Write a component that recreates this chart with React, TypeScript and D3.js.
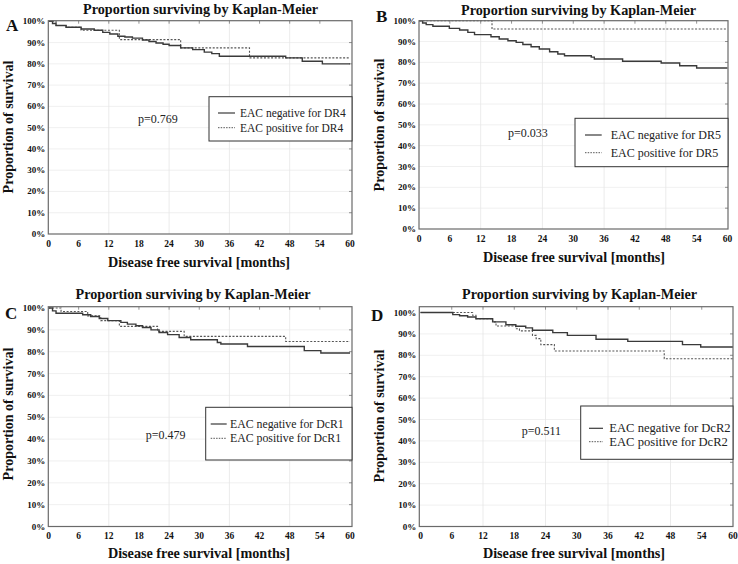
import React from "react";
import * as d3 from "d3";

// ---------- data ----------
const xTicks = [0, 6, 12, 18, 24, 30, 36, 42, 48, 54, 60];
const yTicks = [0, 0.1, 0.2, 0.3, 0.4, 0.5, 0.6, 0.7, 0.8, 0.9, 1.0];
const gridMonths = [12, 24, 36, 48];
const panelLetters = ["A", "B", "C", "D"];
const pValues = ["p=0.769", "p=0.033", "p=0.479", "p=0.511"];
const markers = ["DR4", "DR5", "DcR1", "DcR2"];

const aNegMonths = [0, 0.8, 1.5, 3.5, 6.5, 9.1, 10.8, 12.2, 13.8, 15.2, 16.7, 18.7, 20.0, 21.4, 22.8, 24.0, 26.3, 28.7, 31.0, 32.5, 34.0, 47.2, 50.5, 54.5];
const aNegSurv = [1.0, 0.99, 0.98, 0.972, 0.964, 0.958, 0.948, 0.94, 0.93, 0.926, 0.921, 0.912, 0.905, 0.898, 0.892, 0.886, 0.875, 0.867, 0.855, 0.848, 0.836, 0.828, 0.812, 0.8];
const aPosMonths = [0, 1.5, 3.5, 6.5, 14.1, 26.3, 40.0];
const aPosSurv = [1.0, 0.98, 0.972, 0.958, 0.914, 0.875, 0.828];

const bNegMonths = [0, 0.7, 1.4, 2.7, 5.9, 7.9, 9.5, 10.8, 14.0, 15.6, 17.3, 18.9, 20.2, 21.8, 23.4, 25.4, 27.0, 28.3, 33.5, 34.1, 39.6, 47.1, 50.7, 54.0];
const bNegSurv = [1.0, 0.989, 0.981, 0.973, 0.963, 0.955, 0.944, 0.933, 0.923, 0.912, 0.904, 0.896, 0.886, 0.875, 0.864, 0.851, 0.84, 0.832, 0.825, 0.816, 0.805, 0.797, 0.784, 0.773];
const bPosMonths = [0, 14.2];
const bPosSurv = [1.0, 0.96];

const cNegMonths = [0, 0.8, 1.5, 6.8, 8.4, 10.1, 11.8, 14.4, 15.7, 17.4, 18.7, 20.4, 22.0, 23.7, 26.0, 28.3, 33.6, 34.3, 39.6, 50.9, 54.2];
const cNegSurv = [1.0, 0.987, 0.976, 0.969, 0.961, 0.952, 0.942, 0.934, 0.926, 0.919, 0.911, 0.9, 0.888, 0.878, 0.865, 0.855, 0.842, 0.835, 0.824, 0.805, 0.794];
const cPosMonths = [0, 2.5, 7.8, 10.4, 14.1, 21.7, 27.0, 47.2];
const cPosSurv = [1.0, 0.984, 0.964, 0.942, 0.916, 0.893, 0.87, 0.847];

const dNegMonths = [0, 6.2, 7.5, 9.05, 10.65, 13.85, 16.4, 18.3, 20.2, 21.5, 25.4, 28.2, 33.7, 39.8, 50.3, 53.8];
const dNegSurv = [1.0, 0.99, 0.985, 0.979, 0.971, 0.956, 0.943, 0.936, 0.928, 0.917, 0.906, 0.893, 0.875, 0.865, 0.85, 0.839];
const dPosMonths = [0, 10.0, 10.65, 13.85, 14.5, 18.3, 19.0, 21.5, 22.2, 23.1, 25.7, 46.8];
const dPosSurv = [1.0, 0.987, 0.971, 0.956, 0.937, 0.924, 0.914, 0.893, 0.878, 0.85, 0.82, 0.784];

const negSeries = [
  [aNegMonths, aNegSurv],
  [bNegMonths, bNegSurv],
  [cNegMonths, cNegSurv],
  [dNegMonths, dNegSurv],
];
const posSeries = [
  [aPosMonths, aPosSurv],
  [bPosMonths, bPosSurv],
  [cPosMonths, cPosSurv],
  [dPosMonths, dPosSurv],
];

// ---------- layout (styles / positions) ----------
type Layout = {
  fx0: number; fx1: number; fy0: number; fy1: number;
  xr: [number, number]; yr: [number, number];
  titleX: number; titleY: number;
  letterX: number; letterY: number;
  yTitleX: number; yTitleY: number;
  xTitleX: number; xTitleY: number;
  xTickY: number;
  leg: [number, number, number, number];
  legLine: [number, number]; legTextX: number; legY: [number, number]; legFont: number;
  pX: number; pY: number;
};

const layouts: Layout[] = [
  {
    fx0: 48.3, fx1: 352, fy0: 20.7, fy1: 234, xr: [48.5, 350], yr: [234, 21.3],
    titleX: 200.5, titleY: 14, letterX: 6, letterY: 31, yTitleX: 13, yTitleY: 127,
    xTitleX: 199, xTitleY: 267, xTickY: 246.5,
    leg: [209, 96.7, 352, 141], legLine: [218, 235], legTextX: 240, legY: [113, 127.7], legFont: 11.5,
    pX: 138, pY: 119,
  },
  {
    fx0: 419, fx1: 728, fy0: 20.7, fy1: 229, xr: [419, 727.5], yr: [229, 20.7],
    titleX: 578.5, titleY: 15, letterX: 376, letterY: 22, yTitleX: 383.5, yTitleY: 125,
    xTitleX: 574, xTitleY: 261.5, xTickY: 241.5,
    leg: [575, 118.3, 728, 166.7], legLine: [585, 601.7], legTextX: 610.7, legY: [135, 152.7], legFont: 12,
    pX: 508, pY: 133,
  },
  {
    fx0: 48.3, fx1: 352, fy0: 306.7, fy1: 526.5, xr: [48.5, 350], yr: [526.5, 308],
    titleX: 193, titleY: 299, letterX: 5, letterY: 319, yTitleX: 13, yTitleY: 414,
    xTitleX: 199, xTitleY: 558, xTickY: 539,
    leg: [205.7, 407.3, 352, 460], legLine: [210.7, 226.7], legTextX: 230, legY: [424, 438.3], legFont: 11.8,
    pX: 145.7, pY: 435,
  },
  {
    fx0: 419.3, fx1: 733, fy0: 306.7, fy1: 526.5, xr: [420.5, 733], yr: [526.5, 312.5],
    titleX: 579.5, titleY: 299, letterX: 371, letterY: 321, yTitleX: 383.5, yTitleY: 416,
    xTitleX: 574, xTitleY: 558, xTickY: 539,
    leg: [580.7, 406, 733, 459.3], legLine: [589, 603], legTextX: 609.3, legY: [428.3, 441.7], legFont: 12.6,
    pX: 521.7, pY: 430.7,
  },
];

const SERIF = "'Liberation Serif', 'Times New Roman', serif";
const LINE_COLOR = "#3a3a3a";
const DOT_COLOR = "#555";

function Panel({ i }: { i: number }) {
  const L = layouts[i];
  const x = d3.scaleLinear().domain([0, 60]).range(L.xr);
  const y = d3.scaleLinear().domain([0, 1]).range(L.yr);
  const toPts = (s: number[][]) => {
    const [m, v] = s;
    const pts: [number, number][] = m.map((mm, k) => [mm, v[k]]);
    pts.push([60, v[v.length - 1]]);
    return pts;
  };
  const line = d3
    .line<[number, number]>()
    .x((d) => x(d[0]))
    .y((d) => y(d[1]))
    .curve(d3.curveStepAfter);
  const negPath = line(toPts(negSeries[i])) || "";
  const posPath = line(toPts(posSeries[i])) || "";
  const [lx0, ly0, lx1, ly1] = L.leg;
  return (
    <g>
      <text x={L.titleX} y={L.titleY} textAnchor="middle" fontFamily={SERIF} fontWeight="bold" fontSize={14.2} fill="#111">
        Proportion surviving by Kaplan-Meier
      </text>
      <text x={L.letterX} y={L.letterY} fontFamily={SERIF} fontWeight="bold" fontSize={17} fill="#111">
        {panelLetters[i]}
      </text>
      {/* grid */}
      {yTicks.slice(1, -1).map((t) => (
        <line key={"gy" + t} x1={L.fx0} x2={L.fx1} y1={y(t)} y2={y(t)} stroke="#ececec" strokeWidth={0.8} />
      ))}
      {gridMonths.map((t) => (
        <line key={"gx" + t} x1={x(t)} x2={x(t)} y1={L.fy0} y2={L.fy1} stroke="#e6e6e6" strokeWidth={0.8} />
      ))}
      {/* inner ticks on top / right */}
      {xTicks.slice(1, -1).map((t) => (
        <line key={"tt" + t} x1={x(t)} x2={x(t)} y1={L.fy0} y2={L.fy0 + 3} stroke="#777" strokeWidth={0.8} />
      ))}
      {yTicks.slice(1, -1).map((t) => (
        <line key={"tr" + t} x1={L.fx1} x2={L.fx1 - 3} y1={y(t)} y2={y(t)} stroke="#777" strokeWidth={0.8} />
      ))}
      {/* curves */}
      <path d={posPath} fill="none" stroke={DOT_COLOR} strokeWidth={1.1} strokeDasharray="2,1.6" />
      <path d={negPath} fill="none" stroke={LINE_COLOR} strokeWidth={1.4} />
      {/* frame */}
      <rect x={L.fx0} y={L.fy0} width={L.fx1 - L.fx0} height={L.fy1 - L.fy0} fill="none" stroke="#6a6a6a" strokeWidth={1.2} />
      {/* y tick labels */}
      {yTicks.map((t) => (
        <text key={"yl" + t} x={L.fx0 - 3} y={y(t) + 3} textAnchor="end" fontFamily={SERIF} fontWeight="bold" fontSize={9} fill="#111">
          {Math.round(t * 100) + "%"}
        </text>
      ))}
      {/* x tick labels */}
      {xTicks.map((t) => (
        <text key={"xl" + t} x={x(t)} y={L.xTickY} textAnchor="middle" fontFamily={SERIF} fontWeight="bold" fontSize={9.5} fill="#111">
          {t}
        </text>
      ))}
      <text
        transform={`translate(${L.yTitleX},${L.yTitleY}) rotate(-90)`}
        textAnchor="middle"
        fontFamily={SERIF}
        fontWeight="bold"
        fontSize={14}
        fill="#111"
      >
        Proportion of survival
      </text>
      <text x={L.xTitleX} y={L.xTitleY} textAnchor="middle" fontFamily={SERIF} fontWeight="bold" fontSize={14.2} fill="#111">
        Disease free survival [months]
      </text>
      {/* p value */}
      <text x={L.pX} y={L.pY + 4} fontFamily={SERIF} fontSize={12} fill="#222">
        {pValues[i]}
      </text>
      {/* legend */}
      <rect x={lx0} y={ly0} width={lx1 - lx0} height={ly1 - ly0} fill="white" stroke="#333" strokeWidth={1} />
      <line x1={L.legLine[0]} x2={L.legLine[1]} y1={L.legY[0]} y2={L.legY[0]} stroke={LINE_COLOR} strokeWidth={1.2} />
      <line x1={L.legLine[0]} x2={L.legLine[1]} y1={L.legY[1]} y2={L.legY[1]} stroke={DOT_COLOR} strokeWidth={1} strokeDasharray="1.5,1.2" />
      <text x={L.legTextX} y={L.legY[0] + 4} fontFamily={SERIF} fontSize={L.legFont} fill="#222">
        {"EAC negative for " + markers[i]}
      </text>
      <text x={L.legTextX} y={L.legY[1] + 4} fontFamily={SERIF} fontSize={L.legFont} fill="#222">
        {"EAC positive for " + markers[i]}
      </text>
    </g>
  );
}

export default function App() {
  return (
    <svg
      width={738}
      height={564}
      viewBox="0 0 738 564"
      style={{ position: "absolute", left: 0, top: 0, background: "white" }}
    >
      <rect x={0} y={0} width={738} height={564} fill="white" />
      {layouts.map((_, i) => (
        <Panel key={i} i={i} />
      ))}
    </svg>
  );
}
